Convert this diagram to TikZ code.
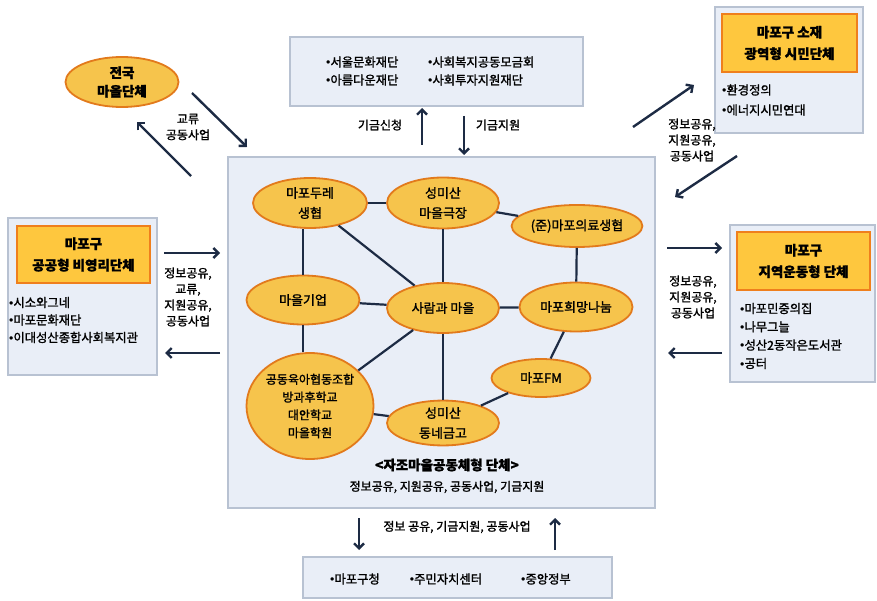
\documentclass[tikz,border=0pt]{standalone}
\usepackage{fontspec}
\setmainfont{Noto Sans CJK KR}[FakeBold=1.4]
\newfontfamily\bulletfont{Liberation Sans}
\newcommand\bul{{\bulletfont •}}
\usetikzlibrary{shapes.geometric,arrows.meta}
\definecolor{boxfill}{HTML}{E9EEF7}
\definecolor{boxline}{HTML}{B8C2D2}
\definecolor{blobfill}{HTML}{F6C44C}
\definecolor{blobline}{HTML}{E27A1C}
\definecolor{titlefill}{HTML}{FEC73E}
\definecolor{titleline}{HTML}{EF7F1D}
\definecolor{navy}{HTML}{1D2B44}

\begin{document}
\begin{tikzpicture}[x=1pt,y=-1pt,
  >={Straight Barb[length=5pt,width=10pt]},
  panel/.style={draw=boxline,fill=boxfill,line width=1.7pt,inner sep=0pt},
  titlebox/.style={draw=titleline,fill=titlefill,line width=1.8pt,inner sep=0pt,align=center,
    font=\fontsize{13.5}{21.5}\selectfont\bfseries},
  blob/.style={ellipse,draw=blobline,fill=blobfill,line width=1.8pt,inner sep=0pt,align=center,
    font=\fontsize{13}{20}\selectfont},
  link/.style={navy,line width=2.2pt},
  flow/.style={->,navy,line width=2.4pt},
  note/.style={align=center,font=\fontsize{12}{16}\selectfont},
  items/.style={align=left,anchor=west,inner sep=0pt,font=\fontsize{12.3}{18}\selectfont}]
\useasboundingbox (0,0) rectangle (877,601);

\node[panel,minimum width=427pt,minimum height=351pt] (hub) at (441.5,332.5) {};
\node[panel,minimum width=293pt,minimum height=69pt] (fund) at (436.5,71.5) {};
\node[panel,minimum width=148pt,minimum height=126pt] (wide) at (789,70) {};
\node[panel,minimum width=149pt,minimum height=157pt] (public) at (82.5,296.5) {};
\node[panel,minimum width=145pt,minimum height=157pt] (local) at (802.5,303.5) {};
\node[panel,minimum width=309pt,minimum height=41pt] (gov) at (457.5,577.5) {};

\node[titlebox,minimum width=135pt,minimum height=58pt] (wideT) at (789.5,43) {마포구 소재\\광역형 시민단체};
\node[titlebox,minimum width=133pt,minimum height=57pt] (publicT) at (83.5,254.5) {마포구\\공공형 비영리단체};
\node[titlebox,minimum width=133pt,minimum height=58pt] (localT) at (803.5,261) {마포구\\지역운동형 단체};

\node[items] (fundA) at (326,71) {\bul{}서울문화재단\\\bul{}아름다운재단};
\node[items] (fundB) at (428,71) {\bul{}사회복지공동모금회\\\bul{}사회투자지원재단};
\node[items,font=\fontsize{12.3}{20}\selectfont] (wideL) at (722,100) {\bul{}환경정의\\\bul{}에너지시민연대};
\node[items,font=\fontsize{12.3}{17.5}\selectfont] (publicL) at (9,320) {\bul{}시소와그네\\\bul{}마포문화재단\\\bul{}이대성산종합사회복지관};
\node[items,font=\fontsize{12.3}{18.3}\selectfont] (localL) at (740,336) {\bul{}마포민중의집\\\bul{}나무그늘\\\bul{}성산2동작은도서관\\\bul{}공터};
\node[font=\fontsize{12.3}{18}\selectfont] (govA) at (355,579) {\bul{}마포구청};
\node[font=\fontsize{12.3}{18}\selectfont] (govB) at (446,579) {\bul{}주민자치센터};
\node[font=\fontsize{12.3}{18}\selectfont] (govC) at (546,579) {\bul{}중앙정부};

\node[blob,minimum width=113pt,minimum height=50pt,font=\fontsize{13.5}{18.5}\selectfont\bfseries] (nation) at (122,82) {전국\\마을단체};
\node[blob,minimum width=114pt,minimum height=50pt] (dure) at (310,203) {마포두레\\생협};
\node[blob,minimum width=112pt,minimum height=51pt] (theater) at (443,203) {성미산\\마을극장};
\node[blob,minimum width=114pt,minimum height=42pt] (clinic) at (577,226) {(준)마포의료생협};
\node[blob,minimum width=113pt,minimum height=49pt] (firm) at (303,300) {마을기업};
\node[blob,minimum width=112pt,minimum height=50pt] (people) at (443,308) {사람과 마을};
\node[blob,minimum width=113pt,minimum height=49pt] (hope) at (576,307) {마포희망나눔};
\node[blob,minimum width=127pt,minimum height=106pt,font=\fontsize{12}{17.8}\selectfont] (coop) at (310,406) {공동육아협동조합\\방과후학교\\대안학교\\마을학원};
\node[blob,minimum width=99pt,minimum height=38pt] (fm) at (541,378) {마포FM};
\node[blob,minimum width=112pt,minimum height=44pt] (bank) at (443,423) {성미산\\동네금고};

\draw[link] (dure) -- (theater);
\draw[link] (theater) -- (clinic);
\draw[link] (firm.north) -- (firm.north |- dure.south);
\draw[link] (dure) -- (people);
\draw[link] (theater) -- (people);
\draw[link] (clinic) -- (hope);
\draw[link] (firm) -- (people);
\draw[link] (people) -- (hope);
\draw[link] (firm.south) -- (firm.south |- coop.north);
\draw[link] (people) -- (coop);
\draw[link] (people) -- (bank);
\draw[link] (hope) -- (fm);
\draw[link] (fm) -- (bank);
\draw[link] (coop) -- (bank);

\node[font=\fontsize{13.5}{16}\selectfont\bfseries] (hubT) at (447,465) {<자조마을공동체형 단체>};
\node[font=\fontsize{12}{16}\selectfont] (hubL) at (447,487) {정보공유, 지원공유, 공동사업, 기금지원};

\coordinate (n1) at (192,93);  \coordinate (n2) at (247,147);
\coordinate (n3) at (191,176); \coordinate (n4) at (137,122);
\coordinate (f1) at (422,145); \coordinate (f2) at (422,108);
\coordinate (f3) at (464,116); \coordinate (f4) at (464,155);
\coordinate (w1) at (633,127); \coordinate (w2) at (694,85);
\coordinate (w3) at (737,156); \coordinate (w4) at (675,197);
\coordinate (p1) at (164,253); \coordinate (p2) at (220,253);
\coordinate (p3) at (220,353); \coordinate (p4) at (165,353);
\coordinate (l1) at (667,248); \coordinate (l2) at (722,248);
\coordinate (l3) at (722,353); \coordinate (l4) at (668,353);
\coordinate (g1) at (359,518); \coordinate (g2) at (359,550);
\coordinate (g3) at (555,550); \coordinate (g4) at (555,518);
\draw[flow] (n1) -- (n2);
\draw[flow] (n3) -- (n4);
\draw[flow] (f1) -- (f2);
\draw[flow] (f3) -- (f4);
\draw[flow] (w1) -- (w2);
\draw[flow] (w3) -- (w4);
\draw[flow] (p1) -- (p2);
\draw[flow] (p3) -- (p4);
\draw[flow] (l1) -- (l2);
\draw[flow] (l3) -- (l4);
\draw[flow] (g1) -- (g2);
\draw[flow] (g3) -- (g4);

\node[note] (nL) at (188,127) {교류\\공동사업};
\node[note] (fL) at (380,125) {기금신청};
\node[note] (fR) at (498,125) {기금지원};
\node[note] (wL) at (692,140) {정보공유,\\지원공유,\\공동사업};
\node[note] (pL) at (188,297) {정보공유,\\교류,\\지원공유,\\공동사업};
\node[note] (lL) at (693,297) {정보공유,\\지원공유,\\공동사업};
\node[note] (gL) at (457,527) {정보 공유, 기금지원, 공동사업};
\end{tikzpicture}
\end{document}
